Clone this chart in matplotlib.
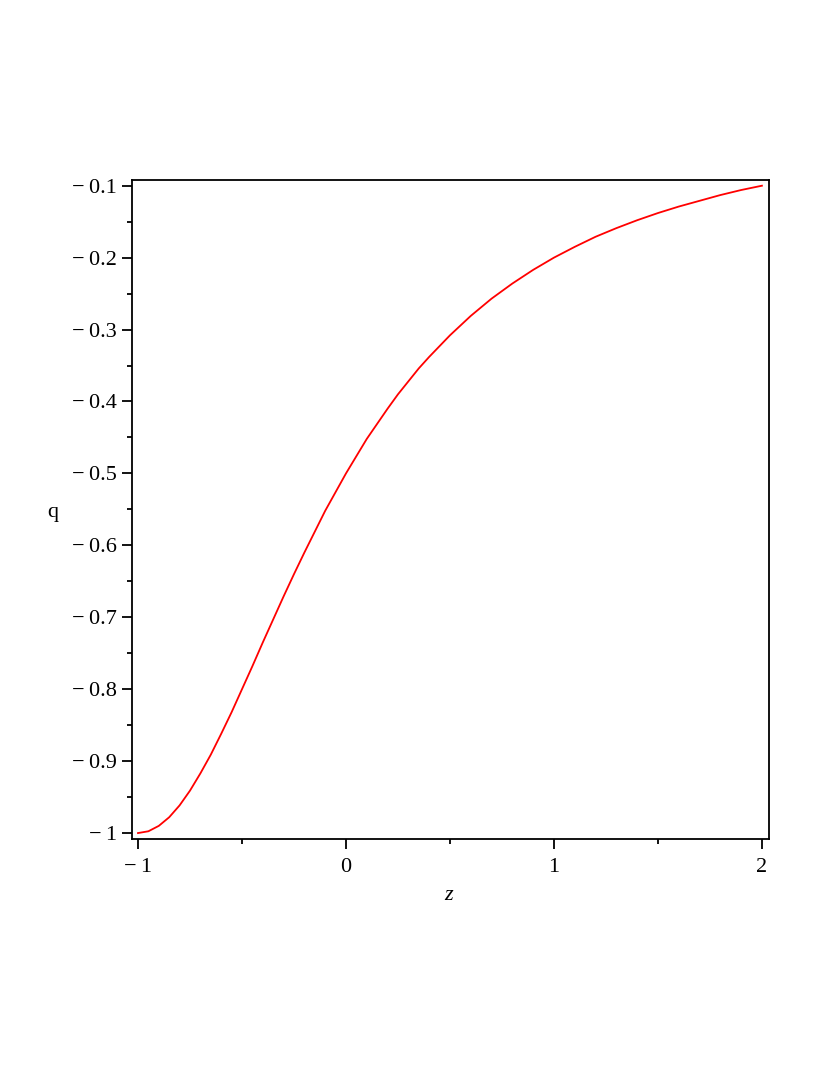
import numpy as np
import matplotlib.pyplot as plt
from matplotlib.ticker import FixedLocator, MultipleLocator

# Values
z_vals = [-1.0, -0.95, -0.9, -0.85, -0.8, -0.75, -0.7, -0.65, -0.6, -0.55, -0.5,
          -0.45, -0.4, -0.35, -0.3, -0.25, -0.2, -0.15, -0.1, -0.05,
          0.0, 0.05, 0.1, 0.15, 0.2, 0.25, 0.3, 0.35, 0.4, 0.5, 0.6, 0.7, 0.8, 0.9,
          1.0, 1.1, 1.2, 1.3, 1.4, 1.5, 1.6, 1.7, 1.8, 1.9, 2.0]
q_vals = [-1.0, -0.9975, -0.990, -0.978, -0.9615, -0.941, -0.917, -0.891, -0.862,
          -0.832, -0.800, -0.768, -0.735, -0.703, -0.671, -0.640, -0.610, -0.581,
          -0.552, -0.526, -0.500, -0.476, -0.452, -0.431, -0.410, -0.390, -0.372,
          -0.354, -0.338, -0.308, -0.281, -0.257, -0.236, -0.217, -0.200, -0.185,
          -0.171, -0.159, -0.148, -0.138, -0.129, -0.121, -0.113, -0.106, -0.100]

x_ticks = [-1, 0, 1, 2]
y_ticks = [-1.0, -0.9, -0.8, -0.7, -0.6, -0.5, -0.4, -0.3, -0.2, -0.1]


def fmt(v):
    s = '%g' % abs(v)
    return ('\u2212\u2009' + s) if v < 0 else s


plt.rcParams['font.family'] = 'serif'
plt.rcParams['font.serif'] = ['Liberation Serif']

fig = plt.figure(figsize=(8.3, 10.75), dpi=100)
ax = fig.add_axes([0.159, 0.2195, 0.7675, 0.6131])

ax.plot(z_vals, q_vals, color='#ff0000', lw=1.3)

ax.set_xlim(-1.029, 2.034)
ax.set_ylim(-1.0083, -0.092)

ax.xaxis.set_major_locator(FixedLocator(x_ticks))
ax.yaxis.set_major_locator(FixedLocator(y_ticks))
ax.set_xticklabels([fmt(v) for v in x_ticks])
ax.set_yticklabels([fmt(v) for v in y_ticks])
ax.xaxis.set_minor_locator(MultipleLocator(0.5))
ax.yaxis.set_minor_locator(MultipleLocator(0.05))

ax.tick_params(which='major', direction='out', length=7, width=1.3,
               labelsize=16, color='black')
ax.tick_params(which='minor', direction='out', length=3.5, width=1.3)
ax.tick_params(axis='x', which='major', pad=7)
ax.tick_params(axis='y', which='major', pad=4)

for sp in ax.spines.values():
    sp.set_linewidth(1.3)

ax.set_xlabel('z', fontsize=16, style='italic', va='baseline', ha='center')
ax.set_ylabel('q', fontsize=16, rotation=0, va='baseline', ha='center')
ax.xaxis.set_label_coords(0.497, -0.0926)
ax.yaxis.set_label_coords(-0.124, 0.4886)

fig.savefig('out.png', dpi=100)
